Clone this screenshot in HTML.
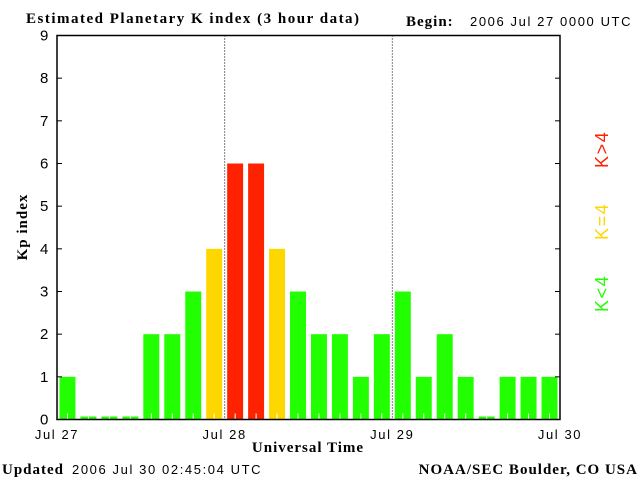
<!DOCTYPE html>
<html><head><meta charset="utf-8"><style>
body{margin:0;background:#fff;width:640px;height:480px;overflow:hidden}
svg{display:block}
.s{font-family:"Liberation Sans",sans-serif;font-size:13px;letter-spacing:1.6px}
.t{font-family:"Liberation Serif",serif;font-size:15px;font-weight:bold;letter-spacing:1px}
</style></head><body>
<svg id="c" width="640" height="480">
<text x="26" y="23" class="t" style="letter-spacing:1.5px">Estimated Planetary K index (3 hour data)</text>
<text x="406" y="26" class="t">Begin:</text>
<text x="470" y="26" class="s">2006 Jul 27 0000 UTC</text>
<text x="2" y="474" class="t">Updated</text>
<text x="72" y="474" class="s">2006 Jul 30 02:45:04 UTC</text>
<text x="638" y="474" class="t" text-anchor="end">NOAA/SEC Boulder, CO USA</text>
<text x="308" y="452" class="t" text-anchor="middle">Universal Time</text>
<text transform="translate(27,227) rotate(-90)" class="t" text-anchor="middle">Kp index</text>
<text transform="translate(608,312) rotate(-90)" class="s" style="font-size:18px" fill="#22ff00">K&lt;4</text>
<text transform="translate(608,240) rotate(-90)" class="s" style="font-size:18px" fill="#ffd700">K=4</text>
<text transform="translate(608,168) rotate(-90)" class="s" style="font-size:18px" fill="#ff2200">K&gt;4</text>
<g id="plot"></g>
</svg>
<script>
const kpValues=[1,0,0,0,2,2,3,4, 6,6,4,3,2,2,1,2, 3,1,2,1,0,1,1,1];
const yTicks=[0,1,2,3,4,5,6,7,8,9];
const dayLabels=["Jul 27","Jul 28","Jul 29","Jul 30"];
const NS='http://www.w3.org/2000/svg';
const L=57,R=560,Y0=419.5,YT=35.5;
const yS=v=>Y0-(Y0-YT)*v/9;
const slot=(R-L)/kpValues.length;
const xS=i=>L+i*slot;
const g=document.getElementById('plot');
function mk(t,a){const e=document.createElementNS(NS,t);for(const k in a)e.setAttribute(k,a[k]);g.appendChild(e);return e;}
kpValues.forEach((v,i)=>{
  const col=v>4?'#ff2200':(v==4?'#ffd700':'#22ff00');
  const top=v===0?Y0-3:yS(v);
  const b=mk('rect',{x:xS(i)+2.5,y:top,width:slot-5,height:Y0-top,fill:col});
  
  
  const t=mk('line',{x1:xS(i)+slot/2,x2:xS(i)+slot/2,y1:Y0,y2:Y0-(v===0?3:6),stroke:'#fff','stroke-width':1});
  
  
});
dayLabels.forEach((d,i)=>{
  const x=L+i*(R-L)/3;
  if(i>0&&i<3){const l=mk('line',{x1:x,x2:x,y1:YT,y2:Y0,stroke:'#000','stroke-dasharray':'1,2'});
    
    }
  const t=mk('text',{x:x,y:439,'text-anchor':'middle',class:'s'});t.textContent=d;
  
  
});
yTicks.forEach(v=>{
  const y=yS(v);
  const l=mk('line',{x1:L,x2:L+5,y1:y,y2:y,stroke:'#000'});
  
  
  const r=mk('line',{x1:R-5,x2:R,y1:y,y2:y,stroke:'#000'});
  
  
  const t=mk('text',{x:50,y:y+5,'text-anchor':'end',class:'s',style:'font-size:15px'});t.textContent=v;
  
  
});
const f=mk('rect',{x:L,y:YT,width:R-L,height:Y0-YT,fill:'none',stroke:'#000','stroke-width':1.5});


</script>
</body></html>
